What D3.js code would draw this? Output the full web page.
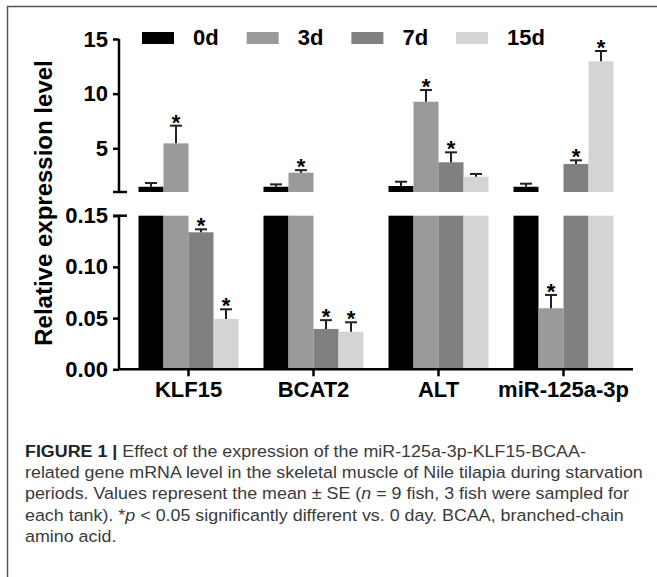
<!DOCTYPE html>
<html>
<head>
<meta charset="utf-8">
<script src="https://cdn.jsdelivr.net/npm/d3@7"></script>
<style>
  body { margin: 0; background: #fff; }
  svg { display: block; }
  .bold { font-family: "Liberation Sans", Arial, sans-serif; font-weight: bold; fill: #000; }
  .cap { font-family: "Liberation Sans Narrow", "Liberation Sans", Arial, sans-serif; fill: #3a3a3a; font-size: 17px; }
</style>
</head>
<body>
<svg id="chart" width="657" height="577"></svg>
<script>
// категории и серии
const categories = ["KLF15", "BCAT2", "ALT", "miR-125a-3p"];
const groups = ["0d", "3d", "7d", "15d"];
const colors = ["#000000", "#9a9a9a", "#808080", "#d4d4d4"];

// средние значения (по группам)
const mean0d = [1.48, 1.48, 1.55, 1.48];
const mean3d = [5.45, 2.77, 9.26, 0.0596];
const mean7d = [0.1338, 0.0394, 3.72, 3.56];
const mean15d = [0.0491, 0.0367, 2.40, 12.96];

// стандартная ошибка
const se0d = [0.34, 0.22, 0.39, 0.28];
const se3d = [1.62, 0.23, 1.07, 0.013];
const se7d = [0.0029, 0.0086, 0.91, 0.34];
const se15d = [0.0095, 0.0092, 0.25, 0.94];

// значимость (*p < 0.05)
const sig0d = [0, 0, 0, 0];
const sig3d = [1, 1, 1, 1];
const sig7d = [1, 1, 1, 1];
const sig15d = [1, 1, 0, 1];

const upperTicks = [5, 10, 15];
const lowerTicks = [0, 0.05, 0.10, 0.15];

const captionLines = [
    [["FIGURE 1 | ", "b"], ["Effect of the expression of the miR-125a-3p-KLF15-BCAA-", ""]],
    [["related gene mRNA level in the skeletal muscle of Nile tilapia during starvation", ""]],
    [["periods. Values represent the mean \u00b1 SE (", ""], ["n", "i"], [" = 9 fish, 3 fish were sampled for", ""]],
    [["each tank). *", ""], ["p", "i"], [" < 0.05 significantly different vs. 0 day. BCAA, branched-chain", ""]],
    [["amino acid.", ""]]
];

const means = [mean0d, mean3d, mean7d, mean15d];
const ses = [se0d, se3d, se7d, se15d];
const sigs = [sig0d, sig3d, sig7d, sig15d];

let rows = [];
groups.forEach((g, gi) => {
    categories.forEach((c, ci) => {
        rows.push({ cat: c, grp: g, gi: gi, v: means[gi][ci], se: ses[gi][ci], sig: sigs[gi][ci] });
    });
});

const svg = d3.select("#chart");

// рамка
svg.append("path")
    .attr("d", "M7.5,577 L7.5,6.5 L657,6.5")
    .attr("fill", "none")
    .attr("stroke", "#555")
    .attr("stroke-width", 1.5);

const axisX = 119;
const xEnd = 633;

const x = d3.scaleBand().domain(categories).range([126, 626]).paddingInner(0.2).paddingOuter(0.1);
const xs = d3.scaleBand().domain(groups).range([0, x.bandwidth()]);
const yU = d3.scaleLinear().domain([1, 15]).range([192, 39]);
const yL = d3.scaleLinear().domain([0, 0.15]).range([369.3, 215.7]);

// столбцы нижней части
svg.append("g").selectAll("rect")
    .data(rows)
    .join("rect")
    .attr("x", d => x(d.cat) + xs(d.grp))
    .attr("width", xs.bandwidth())
    .attr("y", d => yL(Math.min(d.v, 0.15)))
    .attr("height", d => yL(0) - yL(Math.min(d.v, 0.15)))
    .attr("fill", d => colors[d.gi]);

// столбцы верхней части
svg.append("g").selectAll("rect")
    .data(rows.filter(d => d.v > 1))
    .join("rect")
    .attr("x", d => x(d.cat) + xs(d.grp))
    .attr("width", xs.bandwidth())
    .attr("y", d => yU(d.v))
    .attr("height", d => yU(1) - yU(d.v))
    .attr("fill", d => colors[d.gi]);

// планки погрешностей и звездочки
const errRows = rows.map(d => {
    let sc = d.v > 1 ? yU : yL;
    return Object.assign({}, d, { cx: x(d.cat) + xs(d.grp) + xs.bandwidth() / 2, y0: sc(d.v), y1: sc(d.v + d.se) });
});
const eg = svg.append("g").attr("stroke", "#222").attr("stroke-width", 2);
eg.selectAll(".ev").data(errRows).join("line")
    .attr("x1", d => d.cx).attr("x2", d => d.cx)
    .attr("y1", d => d.y0).attr("y2", d => d.y1);
eg.selectAll(".eh").data(errRows).join("line")
    .attr("x1", d => d.cx - 6).attr("x2", d => d.cx + 6)
    .attr("y1", d => d.y1).attr("y2", d => d.y1);

svg.append("g").selectAll("text")
    .data(errRows.filter(d => d.sig))
    .join("text")
    .attr("class", "bold")
    .attr("font-size", 22)
    .attr("text-anchor", "middle")
    .attr("x", d => d.cx)
    .attr("y", d => d.y1 + 4)
    .text("*");

// оси
const axisStyle = g => {
    g.select(".domain").remove();
    g.selectAll(".tick line").attr("stroke", "#000").attr("stroke-width", 2.5);
    g.selectAll(".tick text").attr("class", "bold").attr("font-size", 22).attr("fill", "#000");
};

svg.append("g")
    .attr("transform", `translate(${axisX},0)`)
    .call(d3.axisLeft(yU).tickValues(upperTicks).tickSize(6).tickPadding(5))
    .call(axisStyle);
svg.append("g")
    .attr("transform", `translate(${axisX},0)`)
    .call(d3.axisLeft(yL).tickValues(lowerTicks).tickFormat(d3.format(".2f")).tickSize(6).tickPadding(5))
    .call(axisStyle);

const lines = svg.append("g").attr("stroke", "#000").attr("stroke-width", 2.5).attr("fill", "none");
lines.append("line").attr("x1", axisX).attr("x2", axisX).attr("y1", yU(15)).attr("y2", yU(1));
lines.append("line").attr("x1", axisX - 6).attr("x2", axisX + 8).attr("y1", yU(1)).attr("y2", yU(1));
lines.append("line").attr("x1", axisX).attr("x2", axisX).attr("y1", yL(0.15)).attr("y2", yL(0));
lines.append("line").attr("x1", axisX - 6).attr("x2", axisX + 8).attr("y1", yL(0.15)).attr("y2", yL(0.15));
lines.append("line").attr("x1", axisX).attr("x2", xEnd).attr("y1", yL(0)).attr("y2", yL(0));

svg.append("g")
    .attr("transform", `translate(0,${yL(0)})`)
    .call(d3.axisBottom(x).tickSize(7).tickPadding(5))
    .call(axisStyle);

// подпись оси Y
svg.append("text")
    .attr("class", "bold")
    .attr("font-size", 24)
    .attr("text-anchor", "middle")
    .attr("transform", "translate(52,203) rotate(-90)")
    .text("Relative expression level");

// легенда
const leg = svg.append("g").selectAll("g")
    .data(groups)
    .join("g")
    .attr("transform", (d, i) => `translate(${142 + i * 104.7},0)`);
leg.append("rect").attr("x", 0).attr("y", 32).attr("width", 32).attr("height", 12)
    .attr("fill", (d, i) => colors[i]);
leg.append("text").attr("class", "bold").attr("font-size", 22)
    .attr("x", 51).attr("y", 45).text(d => d);

// подпись рисунка
const cap = svg.append("g").attr("class", "cap");
const capT = cap.selectAll("text")
    .data(captionLines)
    .join("text")
    .attr("x", 25)
    .attr("y", (d, i) => 457 + i * 21.2);
capT.selectAll("tspan")
    .data(d => d)
    .join("tspan")
    .attr("font-weight", d => d[1] === "b" ? "bold" : null)
    .attr("fill", d => d[1] === "b" ? "#222" : null)
    .attr("font-style", d => d[1] === "i" ? "italic" : null)
    .text(d => d[0]);
const w2 = capT.nodes()[1].getComputedTextLength();
const sx = 618 / w2;
cap.attr("transform", `translate(${25 - 25 * sx},0) scale(${sx},1)`);
</script>
</body>
</html>
